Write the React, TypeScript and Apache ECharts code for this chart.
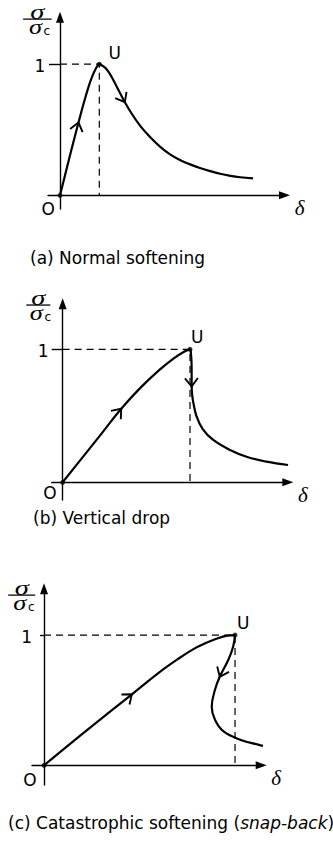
import React, { useEffect, useRef } from "react";
import * as echarts from "echarts";

// Normalised response curves: displacement δ/δU against stress σ/σc, peak U at (1, 1).

// (a) Normal softening
const normalDelta = [0, 0.15, 0.31, 0.47, 0.61, 0.74, 0.83, 0.9, 0.95, 1.0, 1.07, 1.19, 1.3, 1.44, 1.65, 1.83, 2.04, 2.29, 2.55, 2.8, 3.05, 3.31, 3.56, 3.82, 4.07, 4.33, 4.58, 4.91];
const normalSigma = [0, 0.18, 0.37, 0.555, 0.71, 0.84, 0.915, 0.96, 0.985, 1.0, 0.99, 0.96, 0.91, 0.83, 0.71, 0.62, 0.53, 0.445, 0.37, 0.313, 0.27, 0.236, 0.209, 0.185, 0.165, 0.149, 0.138, 0.13];
const normalArrows = [3, 14];

// (b) Vertical drop
const dropDelta = [0, 0.15, 0.31, 0.46, 0.61, 0.76, 0.87, 0.95, 1.0, 1.008, 1.012, 1.013, 1.013, 1.018, 1.026, 1.05, 1.1, 1.18, 1.31, 1.45, 1.6, 1.77];
const dropSigma = [0, 0.18, 0.372, 0.553, 0.71, 0.845, 0.93, 0.98, 1.0, 0.96, 0.9, 0.8, 0.72, 0.65, 0.6, 0.5, 0.4, 0.32, 0.245, 0.19, 0.155, 0.13];
const dropArrows = [3, 12];

// (c) Catastrophic softening (snap-back)
const snapDelta = [0, 0.225, 0.46, 0.6, 0.7, 0.78, 0.85, 0.91, 0.96, 1.0, 0.99, 0.965, 0.92, 0.895, 0.878, 0.895, 0.94, 1.03, 1.13, 1.22];
const snapSigma = [0, 0.27, 0.545, 0.71, 0.815, 0.89, 0.94, 0.975, 0.995, 1.0, 0.91, 0.81, 0.68, 0.58, 0.45, 0.35, 0.26, 0.195, 0.155, 0.12];
const snapArrows = [2, 12];

// Peak point U and the marked value on the stress axis
const peakDelta = [1, 1, 1];
const peakSigma = [1, 1, 1];
const yTickValues = [1];

const titles = ["(a) Normal softening", "(b) Vertical drop", "(c) Catastrophic softening ("];

const SANS = '"DejaVu Sans", Verdana, sans-serif';
const SERIF = '"Liberation Serif", "Times New Roman", serif';

type Layout = {
  grid: { left: number; top: number; width: number; height: number };
  x: [number, number];
  y: [number, number];
  tick: number;
  one: number;
  u: [number, number];
  o: [number, number];
  title: [number, number];
  frac: [number, number, number];
};

const layouts: Layout[] = [
  { grid: { left: 48, top: 17.2, width: 236.5, height: 191.8 }, x: [-0.305, 5.71], y: [-0.104, 1.358], tick: 11, one: -20, u: [15.5, -11], o: [-11.7, 13.7], title: [30, 266.5], frac: [37.4, 19, 28.5] },
  { grid: { left: 51.7, top: 303.8, width: 236.1, height: 196.2 }, x: [-0.086, 1.768], y: [-0.133, 1.342], tick: 11, one: -19.4, u: [7.3, -12.6], o: [-12.7, 11], title: [33, 526.5], frac: [38.3, 305, 24] },
  { grid: { left: 32, top: 588.8, width: 229.2, height: 196.2 }, x: [-0.063, 1.137], y: [-0.151, 1.355], tick: 4, one: -17.3, u: [8.3, -11.7], o: [-14, 14.7], title: [8, 831.5], frac: [21.7, 595, 27] },
];

const curves = [
  { d: normalDelta, s: normalSigma, arrows: normalArrows },
  { d: dropDelta, s: dropSigma, arrows: dropArrows },
  { d: snapDelta, s: snapSigma, arrows: snapArrows },
];

export default function App() {
  const ref = useRef<HTMLDivElement>(null);

  useEffect(() => {
    if (!ref.current) return;
    const chart = echarts.init(ref.current, null, { renderer: "svg" });

    const axisLine = () => ({
      show: true,
      onZero: true,
      symbol: ["none", "triangle"],
      symbolSize: [8, 11],
      lineStyle: { color: "#000", width: 1.4 },
    });

    const grids = layouts.map((l) => ({ ...l.grid }));
    const xAxes = layouts.map((l, i) => ({
      type: "value",
      gridIndex: i,
      min: l.x[0],
      max: l.x[1],
      axisLine: axisLine(),
      axisTick: { show: false },
      axisLabel: { show: false },
      splitLine: { show: false },
    }));
    const yAxes = layouts.map((l, i) => ({
      type: "value",
      gridIndex: i,
      min: l.y[0],
      max: l.y[1],
      axisLine: axisLine(),
      axisTick: { show: true, customValues: yTickValues, length: l.tick, lineStyle: { color: "#000", width: 1.4 } },
      axisLabel: { show: false },
      splitLine: { show: false },
    }));

    const series: any[] = [];
    curves.forEach((c, i) => {
      const pd = peakDelta[i];
      const ps = peakSigma[i];
      series.push({
        type: "line",
        xAxisIndex: i,
        yAxisIndex: i,
        data: [[0, ps], [pd, ps], [pd, 0]],
        showSymbol: false,
        clip: false,
        lineStyle: { color: "#000", width: 1.2, type: [7, 5] },
        z: 2,
      });
      series.push({
        type: "line",
        xAxisIndex: i,
        yAxisIndex: i,
        data: c.d.map((d, k) => [d, c.s[k]]),
        showSymbol: false,
        smooth: 0.4,
        clip: false,
        lineStyle: { color: "#000", width: 2.2 },
        z: 3,
      });
      series.push({
        type: "scatter",
        xAxisIndex: i,
        yAxisIndex: i,
        data: [[0, 0], [pd, ps]],
        symbolSize: 5,
        itemStyle: { color: "#000" },
        clip: false,
        z: 4,
      });
    });

    chart.setOption({
      animation: false,
      grid: grids,
      xAxis: xAxes,
      yAxis: yAxes,
      series,
    });

    const elements: any[] = [];
    const arm = 10.5;
    const half = (38 * Math.PI) / 180;
    curves.forEach((c, i) => {
      const l = layouts[i];
      const px = (d: number, s: number) => chart.convertToPixel({ gridIndex: i }, [d, s]) as number[];
      // direction chevrons along the loading path
      c.arrows.forEach((k) => {
        const tip = px(c.d[k], c.s[k]);
        const a = px(c.d[k - 1], c.s[k - 1]);
        const b = px(c.d[k + 1], c.s[k + 1]);
        let dx = b[0] - a[0];
        let dy = b[1] - a[1];
        const len = Math.hypot(dx, dy) || 1;
        dx /= len;
        dy /= len;
        const wing = (ang: number) => [
          tip[0] - arm * (dx * Math.cos(ang) - dy * Math.sin(ang)),
          tip[1] - arm * (dx * Math.sin(ang) + dy * Math.cos(ang)),
        ];
        elements.push({
          type: "polyline",
          shape: { points: [wing(half), tip, wing(-half)] },
          style: { stroke: "#000", lineWidth: 1.9, fill: null },
          z: 10,
        });
      });
      const o = px(0, 0);
      const u = px(peakDelta[i], peakSigma[i]);
      yTickValues.forEach((v) => {
        const p = px(0, v);
        elements.push({
          type: "text",
          x: p[0] + l.one,
          y: p[1] + 1.5,
          style: { text: String(v), font: `17px ${SANS}`, fill: "#000", align: "center", verticalAlign: "middle" },
        });
      });
      elements.push({
        type: "text",
        x: o[0] + l.o[0],
        y: o[1] + l.o[1],
        style: { text: "O", font: `17px ${SANS}`, fill: "#000", align: "center", verticalAlign: "middle" },
      });
      elements.push({
        type: "text",
        x: u[0] + l.u[0],
        y: u[1] + l.u[1],
        style: { text: "U", font: `17px ${SANS}`, fill: "#000", align: "center", verticalAlign: "middle" },
      });
      // δ at the end of the horizontal axis
      const xEnd = px(l.x[1], 0);
      elements.push({
        type: "text",
        x: xEnd[0] + 15,
        y: o[1] + 13,
        style: { text: "δ", font: `italic 21px ${SERIF}`, fill: "#000", align: "center", verticalAlign: "middle" },
      });
      // σ / σc above the vertical axis
      const [fx, fy, fw] = l.frac;
      elements.push({
        type: "text",
        x: fx,
        y: fy - 7,
        scaleX: 1.3,
        style: { text: "σ", font: `italic 22px ${SERIF}`, fill: "#000", align: "center", verticalAlign: "middle" },
      });
      elements.push({
        type: "rect",
        shape: { x: fx - fw / 2, y: fy - 0.6, width: fw, height: 1.3 },
        style: { fill: "#000" },
      });
      elements.push({
        type: "text",
        x: fx - 2,
        y: fy + 7,
        scaleX: 1.2,
        style: { text: "σ", font: `italic 22px ${SERIF}`, fill: "#000", align: "center", verticalAlign: "middle" },
      });
      elements.push({
        type: "text",
        x: fx + 9.5,
        y: fy + 11.5,
        style: { text: "c", font: `12px ${SANS}`, fill: "#000", align: "center", verticalAlign: "middle" },
      });
      // caption
      elements.push({
        type: "text",
        x: l.title[0],
        y: l.title[1],
        style: {
          text: i === 2 ? "{n|(c) Catastrophic softening (}{i|snap-back}{n|)}" : titles[i],
          font: `17px ${SANS}`,
          fill: "#000",
          align: "left",
          verticalAlign: "bottom",
          rich: i === 2 ? { n: { font: `17px ${SANS}`, fill: "#000" }, i: { font: `italic 17px ${SANS}`, fill: "#000" } } : undefined,
        },
      });
    });

    chart.setOption({ graphic: { elements } });

    return () => chart.dispose();
  }, []);

  return (
    <div
      ref={ref}
      style={{ position: "absolute", left: 0, top: 0, width: 333, height: 841, background: "#fff" }}
    />
  );
}
